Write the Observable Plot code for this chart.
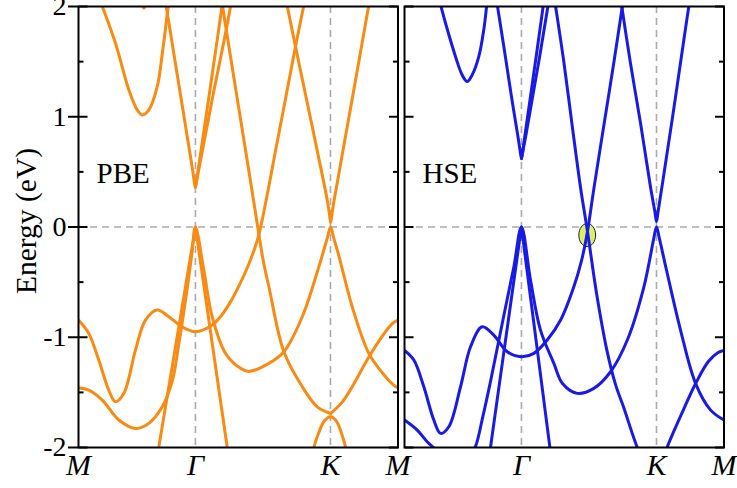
<!DOCTYPE html>
<html>
<head>
<meta charset="utf-8">
<script src="https://cdn.jsdelivr.net/npm/d3@7"></script>
<script src="https://cdn.jsdelivr.net/npm/@observablehq/plot@0.6"></script>
<style>
  html, body { margin: 0; padding: 0; background: #fff; }
  #chart svg { display: block; }
  #chart svg, #chart svg text { font-family: "Liberation Serif", "Times New Roman", Times, serif !important; }
</style>
</head>
<body>
<div id="chart"></div>
<script>
// High-symmetry path M–Γ–K–M (path length in units of |ΓK|)
const kNodes = [0, 0.866, 1.866, 2.366];
const kLabels = ["M", "Γ", "K", "M"];
const yTicks = [-2, -1, 0, 1, 2];
const yMinorTicks = [-1.5, -0.5, 0.5, 1.5];
const methods = ["PBE", "HSE"];
const methodColors = ["#f98a12", "#1a1ae6"];

// PBE bands, sampled as [k, E (eV)]
const pbeTopPocket = [[0.45, 2.1], [0.484, 1.985], [0.52, 2.1]];
const pbeValley = [[0.167, 2.03], [0.274, 1.667], [0.373, 1.243], [0.435, 1.062], [0.472, 1.016], [0.521, 1.062], [0.583, 1.273], [0.624, 1.606], [0.667, 2.03]];
const pbeGammaCB1 = [[0.646, 2.03], [0.70, 1.62], [0.75, 1.24], [0.80, 0.86], [0.845, 0.52], [0.866, 0.36], [0.88, 0.47], [0.93, 0.88], [0.98, 1.30], [1.03, 1.72], [1.066, 2.03]];
const pbeGammaCB2 = [[0.866, 0.36], [0.90, 0.58], [0.95, 0.9], [1.00, 1.22], [1.05, 1.52], [1.094, 1.79], [1.13, 2.03]];
const pbeCrossing = [[1.062, 2.04], [1.094, 1.79], [1.163, 1.261], [1.237, 0.699], [1.296, 0.245], [1.336, -0.07], [1.370, -0.318], [1.410, -0.542], [1.521, -1.132], [1.657, -1.449], [1.768, -1.631], [1.867, -1.691]];
const pbeKCone = [[1.54, 2.04], [1.607, 1.636], [1.731, 0.91], [1.842, 0.245], [1.858, 0.12], [1.867, 0.04], [1.876, 0.11], [1.891, 0.23], [2.002, 0.99], [2.148, 2.0], [2.155, 2.05]];
const pbeBand1 = [[0, -0.844], [0.076, -0.965], [0.150, -1.207], [0.224, -1.479], [0.274, -1.585], [0.336, -1.509], [0.422, -1.116], [0.496, -0.844], [0.583, -0.753], [0.669, -0.814], [0.768, -0.905], [0.866, -0.95], [0.990, -0.889], [1.06, -0.80], [1.13, -0.67], [1.19, -0.53], [1.25, -0.37], [1.30, -0.21], [1.336, -0.07], [1.484, 0.85], [1.607, 1.636], [1.675, 2.05]];
const pbeVB1 = [[0.59, -2.03], [0.80, -0.486], [0.85, -0.118], [0.866, 0], [0.88, -0.119], [0.93, -0.543], [1.105, -2.03]];
const pbeVB2 = [[0, -1.46], [0.076, -1.479], [0.176, -1.570], [0.299, -1.751], [0.422, -1.827], [0.521, -1.781], [0.620, -1.631], [0.694, -1.40], [0.743, -1.06], [0.793, -0.66], [0.842, -0.22], [0.866, 0], [0.928, -0.39], [0.990, -0.814], [1.089, -1.146], [1.2, -1.282], [1.26, -1.31], [1.410, -1.237], [1.521, -1.132], [1.657, -0.814], [1.780, -0.360], [1.845, -0.09], [1.867, 0], [1.89, -0.10], [1.93, -0.27], [2.027, -0.723], [2.150, -1.146], [2.274, -1.358], [2.33, -1.43], [2.366, -1.46]];
const pbeKM = [[1.867, -1.691], [1.953, -1.588], [2.027, -1.449], [2.15, -1.18], [2.25, -0.99], [2.32, -0.88], [2.366, -0.845]];
const pbeKCap = [[1.735, -2.03], [1.775, -1.88], [1.82, -1.76], [1.867, -1.72], [1.91, -1.76], [1.95, -1.88], [1.985, -2.03]];

// HSE bands, sampled as [k, E (eV)]
const hseValley = [[0.262, 2.04], [0.304, 1.848], [0.378, 1.545], [0.427, 1.379], [0.464, 1.319], [0.501, 1.379], [0.550, 1.545], [0.587, 1.788], [0.611, 2.04]];
const hseGammaCB1 = [[0.685, 2.03], [0.74, 1.6], [0.79, 1.2], [0.84, 0.82], [0.855, 0.70], [0.866, 0.62], [0.88, 0.73], [0.93, 1.16], [0.98, 1.59], [1.03, 2.03]];
const hseGammaCB2 = [[0.866, 0.62], [0.9, 0.84], [0.95, 1.19], [1.0, 1.54], [1.059, 1.98], [1.07, 2.05]];
const hseCrossing = [[1.114, 2.04], [1.178, 1.515], [1.244, 0.898], [1.304, 0.354], [1.355, -0.04], [1.422, -0.60], [1.501, -1.13], [1.563, -1.43], [1.624, -1.64], [1.724, -2.0], [1.80, -2.2], [1.866, -2.27]];
const hseKCone = [[1.604, 2.04], [1.674, 1.48], [1.748, 0.94], [1.822, 0.36], [1.854, 0.14], [1.866, 0.05], [1.878, 0.14], [1.921, 0.48], [1.995, 1.08], [2.069, 1.70], [2.11, 2.04]];
const hseBand1 = [[0, -1.12], [0.069, -1.207], [0.143, -1.449], [0.217, -1.751], [0.267, -1.872], [0.328, -1.812], [0.415, -1.449], [0.489, -1.086], [0.575, -0.905], [0.661, -0.98], [0.761, -1.132], [0.866, -1.177], [0.958, -1.146], [1.057, -1.025], [1.156, -0.844], [1.254, -0.542], [1.31, -0.31], [1.355, -0.04], [1.40, 0.33], [1.48, 0.95], [1.55, 1.49], [1.619, 2.05]];
const hseVB1 = [[0.632, -2.04], [0.80, -0.574], [0.85, -0.139], [0.866, 0], [0.88, -0.133], [0.93, -0.608], [1.081, -2.04]];
const hseVB2 = [[0, -1.751], [0.094, -1.842], [0.168, -1.948], [0.242, -2.03], [0.33, -2.12], [0.42, -2.12], [0.49, -2.06], [0.526, -1.99], [0.58, -1.72], [0.637, -1.40], [0.736, -0.80], [0.810, -0.36], [0.866, 0], [0.933, -0.481], [1.007, -0.935], [1.106, -1.237], [1.17, -1.42], [1.279, -1.509], [1.402, -1.464], [1.526, -1.313], [1.650, -1.025], [1.773, -0.542], [1.845, -0.11], [1.866, 0.0], [1.887, -0.10], [1.94, -0.39], [2.044, -0.935], [2.156, -1.42], [2.267, -1.661], [2.366, -1.751]];
const hseKM = [[1.866, -2.27], [1.946, -1.994], [2.05, -1.70], [2.156, -1.42], [2.25, -1.22], [2.32, -1.14], [2.366, -1.12]];

// Band crossing highlighted on the HSE panel
const markedNode = [{method: "HSE", k: 1.353, E: -0.073}];

const pbeBands = [pbeTopPocket, pbeValley, pbeGammaCB1, pbeGammaCB2, pbeCrossing, pbeKCone, pbeBand1, pbeVB1, pbeVB2, pbeKM, pbeKCap];
const hseBands = [hseValley, hseGammaCB1, hseGammaCB2, hseCrossing, hseKCone, hseBand1, hseVB1, hseVB2, hseKM];

// Long table for Plot: one row per sample point
const rows = [];
[pbeBands, hseBands].forEach((bands, m) =>
  bands.forEach((pts, b) =>
    pts.forEach(([k, E]) => rows.push({method: methods[m], band: `${methods[m]}-${b}`, k, E}))
  )
);

// Path labels: the shared M between the panels is written once
const xLabelRows = [];
methods.forEach((method, m) =>
  kNodes.forEach((k, j) => {
    if (m > 0 && j === 0) return;
    xLabelRows.push({method, k, label: kLabels[j]});
  })
);

// Plain tick stroke for inward ticks
const tickShape = {
  draw(context, length) {
    context.moveTo(0, 0);
    context.lineTo(0, -length);
  }
};

// Upright ellipse symbol
const ellipse = {
  draw(context, size) {
    const ry = Math.sqrt(size / Math.PI), rx = ry * 0.73;
    const kx = rx * 0.5523, ky = ry * 0.5523;
    context.moveTo(rx, 0);
    context.bezierCurveTo(rx, ky, kx, ry, 0, ry);
    context.bezierCurveTo(-kx, ry, -rx, ky, -rx, 0);
    context.bezierCurveTo(-rx, -ky, -kx, -ry, 0, -ry);
    context.bezierCurveTo(kx, -ry, rx, -ky, rx, 0);
    context.closePath();
  }
};

const serif = "Liberation Serif";
const dash = {stroke: "#aaaaaa", strokeWidth: 1.6, strokeDasharray: "7,5"};
const tickStyle = {stroke: "#000", strokeWidth: 2, strokeLinecap: "butt", shape: tickShape, anchor: "start"};

const chart = Plot.plot({
  width: 737,
  height: 488,
  marginLeft: 78,
  marginRight: 13.5,
  marginTop: 6,
  marginBottom: 41,
  style: {fontFamily: serif, background: "#fff", color: "#000"},
  fx: {domain: methods, axis: null, paddingInner: 0.02, paddingOuter: 0, round: false},
  x: {domain: [kNodes[0], kNodes[3]], axis: null},
  y: {domain: [-2, 2]},
  color: {domain: methods, range: methodColors},
  marks: [
    Plot.ruleX([kNodes[1], kNodes[2]], dash),
    Plot.ruleY([0], dash),
    Plot.dot(markedNode, {fx: "method", x: "k", y: "E", r: 11.5, symbol: ellipse, fill: "#dcef6c", stroke: "#1a1a1a", strokeWidth: 1}),
    Plot.line(rows, {fx: "method", x: "k", y: "E", z: "band", stroke: "method", strokeWidth: 3, curve: "catmull-rom", clip: true}),
    Plot.vector(yTicks, {y: d => d, frameAnchor: "left", rotate: 90, length: 9, ...tickStyle}),
    Plot.vector(yMinorTicks, {y: d => d, frameAnchor: "left", rotate: 90, length: 5, ...tickStyle}),
    Plot.vector(yTicks, {y: d => d, frameAnchor: "right", rotate: -90, length: 9, ...tickStyle}),
    Plot.vector(yMinorTicks, {y: d => d, frameAnchor: "right", rotate: -90, length: 5, ...tickStyle}),
    Plot.axisY({ticks: yTicks, tickSize: 10, tickPadding: 2, tickFormat: d => String(d), fontSize: 28, fontFamily: serif, strokeWidth: 2, label: null}),
    Plot.text(xLabelRows, {fx: "method", x: "k", text: "label", frameAnchor: "bottom", dy: 27, fontSize: 30, fontStyle: "italic", fontFamily: serif}),
    Plot.text(["Energy (eV)"], {fx: () => "PBE", text: d => d, frameAnchor: "left", textAnchor: "middle", rotate: -90, dx: -52, dy: -6, fontSize: 29.5, fontFamily: serif}),
    Plot.text(methods, {fx: d => d, text: d => d, frameAnchor: "left", textAnchor: "start", dx: 18, dy: -53, fontSize: 29, fontFamily: serif}),
    Plot.frame({stroke: "#000", strokeWidth: 2})
  ]
});

document.getElementById("chart").append(chart);
</script>
</body>
</html>
